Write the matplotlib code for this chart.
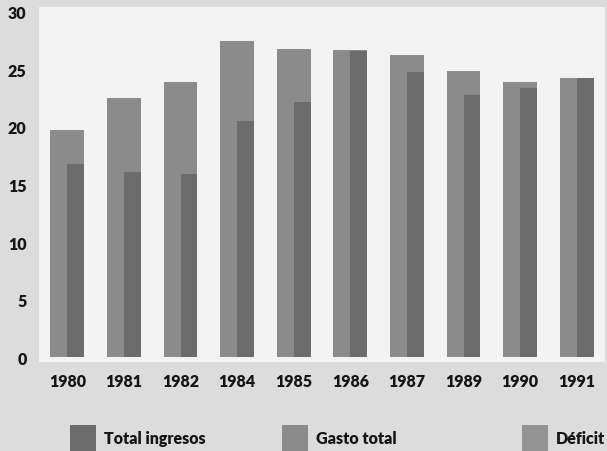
import matplotlib.pyplot as plt
from matplotlib.patches import Patch

# values (% of GDP)
years = ["1980", "1981", "1982", "1984", "1985", "1986", "1987", "1989", "1990", "1991"]
gasto_total = [19.7, 22.5, 23.9, 27.5, 26.8, 26.7, 26.3, 24.9, 23.9, 24.3]
total_ingresos = [16.8, 16.1, 15.9, 20.5, 22.2, 26.6, 24.8, 22.8, 23.4, 24.3]
y_ticks = [0, 5, 10, 15, 20, 25, 30]

# greys of the scan
bg_color = "#dcdcdc"
plot_color = "#f3f3f3"
gasto_color = "#8b8b8b"
ingresos_color = "#6c6c6c"
deficit_color = "#939393"
text_color = "#151515"

plt.rcParams['font.family'] = ['Lato', 'DejaVu Sans']
plt.rcParams['font.weight'] = 'heavy'

fig = plt.figure(figsize=(6.07, 4.52), dpi=100, facecolor=bg_color)
ax = fig.add_axes([39/607, 1 - 363/452, 566/607, 355/452])
ax.set_facecolor(plot_color)

x = list(range(len(years)))
ax.bar(x, gasto_total, width=0.6, color=gasto_color, linewidth=0)
ax.bar([i + 0.15 for i in x], total_ingresos, width=0.3, color=ingresos_color, linewidth=0)

ax.set_xlim(-0.5, 9.5)
ax.set_ylim(-0.43, 30.43)
ax.set_xticks(x)
ax.set_xticklabels(years)
ax.set_yticks(y_ticks)
ax.tick_params(axis='x', length=0, pad=8, labelsize=11.5, colors=text_color)
ax.tick_params(axis='y', length=0, pad=9, labelsize=11.5, colors=text_color)
for s in ax.spines.values():
    s.set_visible(False)

# three separate legend entries spread along the bottom
entries = [("Total ingresos", ingresos_color, 70),
           ("Gasto total", gasto_color, 282),
           ("Déficit", deficit_color, 522)]
for label, col, px in entries:
    fig.legend(handles=[Patch(facecolor=col, linewidth=0)], labels=[label],
               loc='upper left', bbox_to_anchor=(px/607, 1 - 426/452),
               frameon=False, borderpad=0, borderaxespad=0,
               handlelength=1.6, handleheight=2.1, handletextpad=0.55,
               prop={'size': 11.5, 'weight': 'heavy'}, labelcolor=text_color)

fig.savefig("out.png", dpi=100, facecolor=bg_color)
